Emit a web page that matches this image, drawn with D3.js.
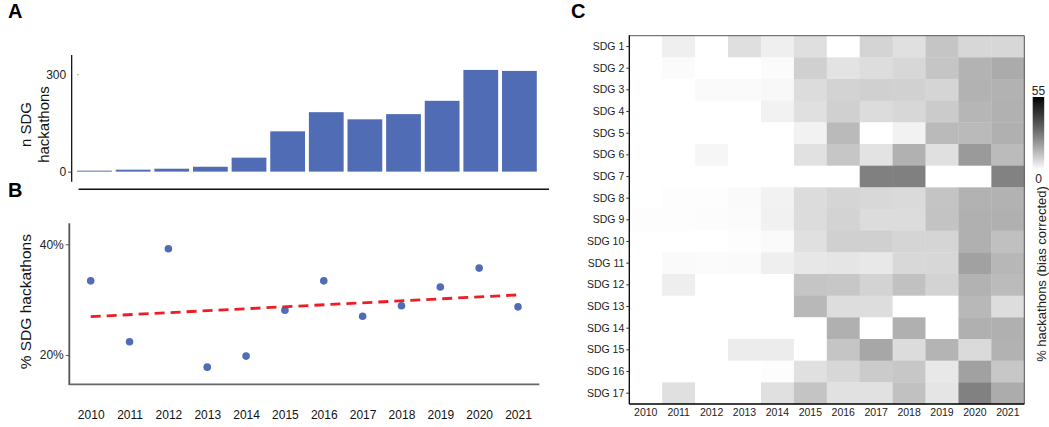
<!DOCTYPE html>
<html>
<head>
<meta charset="utf-8">
<script src="https://cdn.jsdelivr.net/npm/d3@7"></script>
<style>
  html, body { margin: 0; padding: 0; background: #fff; }
  svg { display: block; font-family: "Liberation Sans", Arial, Helvetica, sans-serif; }
</style>
</head>
<body>
<svg id="chart" width="1049" height="427"></svg>
<script>
// ---------------- DATA ----------------
const years = [2010, 2011, 2012, 2013, 2014, 2015, 2016, 2017, 2018, 2019, 2020, 2021];

// Panel A: number of SDG hackathons per year
const nSdgHackathons = [3, 6, 9, 15, 43, 124, 183, 161, 177, 218, 313, 310];
const nTicks = [0, 300];

// Panel B: % SDG hackathons per year
const pctSdgHackathons = [33.4, 22.4, 39.2, 17.8, 19.8, 28.1, 33.4, 27.0, 28.9, 32.3, 35.7, 28.7];
const pctTicks = [20, 40];

// Panel C: % hackathons (bias corrected) per SDG (rows) and year (columns)
const sdgLabels = ["SDG 1", "SDG 2", "SDG 3", "SDG 4", "SDG 5", "SDG 6", "SDG 7", "SDG 8", "SDG 9",
                   "SDG 10", "SDG 11", "SDG 12", "SDG 13", "SDG 14", "SDG 15", "SDG 16", "SDG 17"];
const sdg1  = [0, 3.1, 0, 6.2, 3.1, 6.2, 0, 8.2, 6.0, 11.2, 7.8, 7.8];
const sdg2  = [0, 0.8, 0, 0, 0.8, 9.0, 5.3, 6.5, 7.8, 11.2, 14.8, 16.6];
const sdg3  = [0, 0, 1.0, 1.0, 1.3, 6.8, 8.4, 9.0, 8.8, 8.1, 15.0, 15.0];
const sdg4  = [0, 0, 0, 0, 2.5, 6.0, 9.0, 6.8, 7.8, 10.0, 14.3, 15.3];
const sdg5  = [0, 0, 0, 0, 0, 2.5, 13.5, 0, 2.5, 13.5, 13.5, 15.5];
const sdg6  = [0, 0, 1.8, 0, 0, 5.7, 11.0, 5.3, 15.3, 6.0, 20.0, 13.3];
const sdg7  = [0, 0, 0, 0, 0, 0, 0, 25.5, 25.5, 0, 0, 25.0];
const sdg8  = [0, 0.4, 0.4, 1.0, 2.5, 6.7, 8.1, 7.5, 7.1, 11.4, 15.0, 15.0];
const sdg9  = [0.4, 0.4, 0.5, 0.8, 2.7, 6.7, 8.4, 6.8, 6.8, 11.7, 15.5, 15.5];
const sdg10 = [0, 0, 0, 0.3, 1.0, 6.0, 9.1, 9.1, 8.1, 8.1, 15.4, 12.3];
const sdg11 = [0, 1.0, 0.8, 1.0, 3.0, 4.6, 5.0, 4.4, 7.5, 7.8, 18.5, 14.1];
const sdg12 = [0, 3.2, 0, 0, 0, 11.2, 10.9, 8.4, 12.1, 8.4, 15.0, 13.2];
const sdg13 = [0, 0, 0, 0, 0, 13.9, 6.5, 6.5, 0, 0, 13.9, 6.5];
const sdg14 = [0, 0, 0, 0, 0, 0, 15.4, 0, 15.4, 0, 15.4, 15.4];
const sdg15 = [0, 0, 0, 3.7, 3.7, 0, 11.2, 17.4, 6.8, 14.6, 7.1, 15.0];
const sdg16 = [0, 0, 0, 0, 0.4, 6.0, 7.8, 10.0, 10.8, 4.4, 18.5, 10.8];
const sdg17 = [0, 6.0, 0, 0, 6.0, 11.4, 5.7, 5.7, 12.1, 5.0, 25.3, 16.3];
const heatRows = [sdg1, sdg2, sdg3, sdg4, sdg5, sdg6, sdg7, sdg8, sdg9, sdg10, sdg11, sdg12, sdg13, sdg14, sdg15, sdg16, sdg17];
const legendTicks = [0, 55];

// ---------------- DRAWING ----------------
const svg = d3.select("#chart");
const BLUE = "#506cb5";

// Panel labels
[["A", 8, 18], ["B", 8, 197], ["C", 571, 18]].forEach(([t, x, y]) => {
  svg.append("text").attr("x", x).attr("y", y).attr("font-size", 20).attr("font-weight", "bold")
    .attr("fill", "#000").text(t);
});

// ---------- Panel A ----------
{
  const x = d3.scalePoint().domain(years).range([94.5, 519.4]);
  const step = x.step();
  const y = d3.scaleLinear().domain([-31, 359]).range([181.7, 55]);
  const g = svg.append("g");
  g.selectAll("rect").data(years).join("rect")
    .attr("x", d => x(d) - step * 0.45)
    .attr("width", step * 0.9)
    .attr("y", (d, i) => y(nSdgHackathons[i]))
    .attr("height", (d, i) => y(0) - y(nSdgHackathons[i]))
    .attr("fill", BLUE);
  // y axis line
  g.append("line").attr("x1", 71.7).attr("x2", 71.7).attr("y1", y.range()[1]).attr("y2", y.range()[0])
    .attr("stroke", "#000").attr("stroke-width", 1.2);
  // x axis line (no labels)
  g.append("line").attr("x1", 78.6).attr("x2", 549).attr("y1", 189.3).attr("y2", 189.3)
    .attr("stroke", "#111").attr("stroke-width", 1.4);
  const yAxis = d3.axisLeft(y).tickValues(nTicks).tickSize(3.5).tickPadding(2);
  const ax = g.append("g").attr("transform", "translate(71.7,0)").call(yAxis);
  ax.select(".domain").remove();
  ax.selectAll("text").attr("font-size", 12).attr("fill", "#222")
    .attr("font-family", "Liberation Sans, Arial, sans-serif");
  ax.selectAll("line").attr("stroke", "#333");
  ax.selectAll(".tick").filter(d => d === 300).select("line")
    .attr("x1", 5.5).attr("x2", 6.8).attr("stroke", "#888");
  // y title
  const t = g.append("text").attr("transform", "translate(35,124.5) rotate(-90)")
    .attr("text-anchor", "middle").attr("font-size", 15).attr("fill", "#111");
  t.append("tspan").attr("x", 0).attr("dy", "-0.25em").text("n SDG");
  t.append("tspan").attr("x", 0).attr("dy", "1.15em").text("hackathons");
}

// ---------- Panel B ----------
{
  const x = d3.scalePoint().domain(years).range([90.7, 518]);
  const y = d3.scaleLinear().domain([14.7, 43.8]).range([384.3, 223.3]);
  const g = svg.append("g");
  // axis lines
  g.append("line").attr("x1", 69.3).attr("x2", 69.3).attr("y1", 223.3).attr("y2", 384.3)
    .attr("stroke", "#555").attr("stroke-width", 1.8);
  g.append("line").attr("x1", 68.4).attr("x2", 539.3).attr("y1", 384.3).attr("y2", 384.3)
    .attr("stroke", "#666").attr("stroke-width", 1.8);
  const yAxis = d3.axisLeft(y).tickValues(pctTicks).tickFormat(d => d + "%").tickSize(3.5).tickPadding(2);
  const ay = g.append("g").attr("transform", "translate(69.3,0)").call(yAxis);
  ay.select(".domain").remove();
  ay.selectAll("text").attr("font-size", 12).attr("fill", "#222")
    .attr("font-family", "Liberation Sans, Arial, sans-serif");
  ay.selectAll("line").attr("stroke", "#555");
  const xAxis = d3.axisBottom(x).tickSize(0).tickPadding(0).tickFormat(d3.format("d"));
  const axx = g.append("g").attr("transform", "translate(0,410)").call(xAxis);
  axx.select(".domain").remove();
  axx.selectAll("text").attr("font-size", 12).attr("fill", "#111")
    .attr("font-family", "Liberation Sans, Arial, sans-serif");
  // regression line (least squares fit of the points)
  const n = years.length;
  const mx = d3.mean(years), my = d3.mean(pctSdgHackathons);
  const sxy = d3.sum(years, (d, i) => (d - mx) * (pctSdgHackathons[i] - my));
  const sxx = d3.sum(years, d => (d - mx) * (d - mx));
  const slope = sxy / sxx, icpt = my - slope * mx;
  const first = years[0], last = years[n - 1];
  // points
  g.selectAll("circle").data(years).join("circle")
    .attr("cx", d => x(d)).attr("cy", (d, i) => y(pctSdgHackathons[i]))
    .attr("r", 3.8).attr("fill", BLUE);
  g.append("line")
    .attr("x1", x(first)).attr("y1", y(icpt + slope * first))
    .attr("x2", x(last)).attr("y2", y(icpt + slope * last))
    .attr("stroke", "#ee1c25").attr("stroke-width", 2.8).attr("stroke-dasharray", "10,6");
  g.append("text").attr("transform", "translate(31,301.7) rotate(-90)")
    .attr("text-anchor", "middle").attr("font-size", 15.5).attr("fill", "#111").text("% SDG hackathons");
}

// ---------- Panel C ----------
{
  const left = 629.3, right = 1024.3, top = 35.7, bottom = 404;
  const x = d3.scaleBand().domain(years).range([left, right]);
  const y = d3.scaleBand().domain(sdgLabels).range([top, bottom]);
  const color = d3.scaleLinear().domain([0, 55]).range(["#ffffff", "#000000"]).interpolate(d3.interpolateLab);
  const cells = [];
  heatRows.forEach((row, r) => row.forEach((v, c) => cells.push({ sdg: sdgLabels[r], year: years[c], v })));
  const g = svg.append("g");
  g.selectAll("rect.cell").data(cells).join("rect").attr("class", "cell")
    .attr("x", d => x(d.year)).attr("y", d => y(d.sdg))
    .attr("width", x.bandwidth() + 0.3).attr("height", y.bandwidth() + 0.3)
    .attr("fill", d => color(d.v));
  // border
  g.append("line").attr("x1", left).attr("x2", right).attr("y1", top).attr("y2", top)
    .attr("stroke", "#555").attr("stroke-width", 1);
  g.append("line").attr("x1", right).attr("x2", right).attr("y1", top).attr("y2", bottom)
    .attr("stroke", "#555").attr("stroke-width", 1);
  g.append("line").attr("x1", left).attr("x2", left).attr("y1", top - 0.5).attr("y2", bottom)
    .attr("stroke", "#000").attr("stroke-width", 1.3);
  g.append("line").attr("x1", left).attr("x2", right).attr("y1", bottom).attr("y2", bottom)
    .attr("stroke", "#000").attr("stroke-width", 1.3);
  const ay = g.append("g").attr("transform", `translate(${left},0)`)
    .call(d3.axisLeft(y).tickSize(3).tickPadding(2));
  ay.select(".domain").remove();
  ay.selectAll("text").attr("font-size", 10.5).attr("fill", "#222")
    .attr("font-family", "Liberation Sans, Arial, sans-serif");
  ay.selectAll("line").attr("stroke", "#333");
  const ax = g.append("g").attr("transform", `translate(0,${bottom})`)
    .call(d3.axisBottom(x).tickSize(0).tickPadding(5).tickFormat(d3.format("d")));
  ax.select(".domain").remove();
  ax.selectAll("text").attr("font-size", 10.5).attr("fill", "#222")
    .attr("font-family", "Liberation Sans, Arial, sans-serif");

  // Legend
  const defs = svg.append("defs");
  const grad = defs.append("linearGradient").attr("id", "lg").attr("x1", 0).attr("y1", 1).attr("x2", 0).attr("y2", 0);
  d3.range(0, 1.0001, 0.1).forEach(t => {
    grad.append("stop").attr("offset", t).attr("stop-color", color(t * 55));
  });
  const ly = d3.scaleLinear().domain(legendTicks).range([170, 97]);
  g.append("rect").attr("x", 1032.7).attr("y", ly(55)).attr("width", 11.5).attr("height", ly(0) - ly(55))
    .attr("fill", "url(#lg)");
  g.selectAll("text.lt").data(legendTicks).join("text").attr("class", "lt")
    .attr("x", 1038.5).attr("y", d => d === 55 ? ly(d) - 2 : ly(d) + 13)
    .attr("text-anchor", "middle").attr("font-size", 12).attr("fill", "#222").text(d => d);
  g.append("text").attr("transform", "translate(1045.5,274) rotate(-90)")
    .attr("text-anchor", "middle").attr("font-size", 13).attr("fill", "#222")
    .text("% hackathons (bias corrected)");
}
</script>
</body>
</html>
